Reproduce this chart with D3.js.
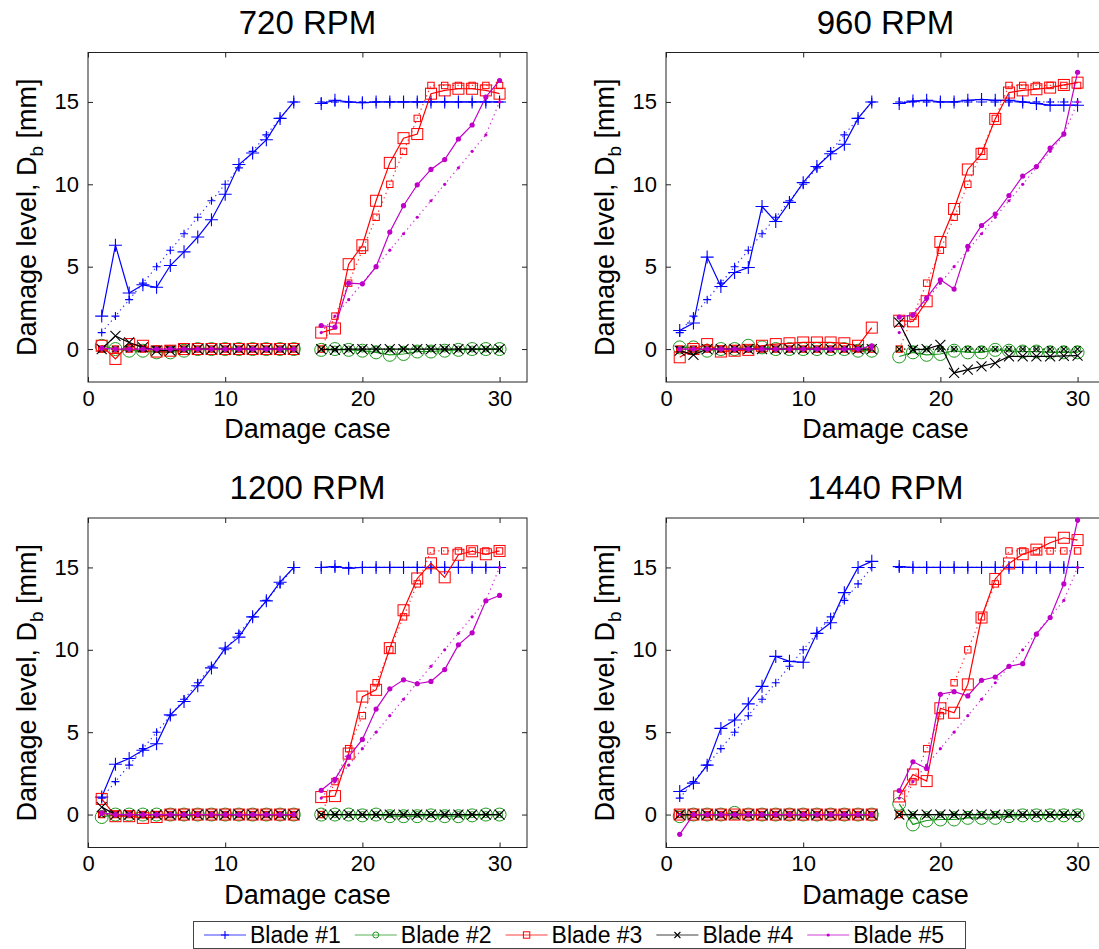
<!DOCTYPE html>
<html>
<head>
<meta charset="utf-8">
<script src="https://cdn.jsdelivr.net/npm/d3@7"></script>
<style>
  body { margin: 0; background: #fff; }
  svg text { font-family: "Liberation Sans", Arial, sans-serif; fill: #000; }
</style>
</head>
<body>
<svg id="fig" width="1099" height="949"></svg>
<script>
// damage cases, case 16 is not measured (gap)
var cases = [1,2,3,4,5,6,7,8,9,10,11,12,13,14,15,16,17,18,19,20,21,22,23,24,25,26,27,28,29,30];
var blades = ['Blade #1','Blade #2','Blade #3','Blade #4','Blade #5'];
var titles = ['720 RPM','960 RPM','1200 RPM','1440 RPM'];
var xTicks = [0,10,20,30];
var yTicks = [0,5,10,15];

// true damage (dotted)
var true1 = [1,2,3,4,5,6,7,8,9,10,11,12,13,14,15,null,15,15,15,15,15,15,15,15,15,15,15,15,15,15];
var true2 = [0,0,0,0,0,0,0,0,0,0,0,0,0,0,0,null,0,0,0,0,0,0,0,0,0,0,0,0,0,0];
var true3 = [0,0,0,0,0,0,0,0,0,0,0,0,0,0,0,null,0,2,4,6,8,10,12,14,16,16,16,16,16,16];
var true4 = [0,0,0,0,0,0,0,0,0,0,0,0,0,0,0,null,0,0,0,0,0,0,0,0,0,0,0,0,0,0];
var true5 = [0,0,0,0,0,0,0,0,0,0,0,0,0,0,0,null,1,2,3,4,5,6,7,8,9,10,11,12,13,15];

// estimated damage (solid), one set per speed
var est720_1 = [2.0,6.3,3.4,3.9,3.75,5.07,5.9,6.8,7.85,9.4,11.2,11.9,12.7,14.0,15.0,null,14.9,15.1,15.0,14.95,15.0,15.0,15.0,15.0,15.0,15.0,15.0,15.0,15.0,15.0];
var est720_2 = [0.2,0.0,-0.1,-0.1,-0.2,-0.2,-0.1,0,0,0,0,0,0,0,0,null,-0.05,0,-0.05,-0.1,-0.2,-0.35,-0.3,-0.15,-0.15,-0.1,-0.05,0,0,0];
var est720_3 = [0.2,-0.6,0.3,0.2,-0.15,-0.1,0,0,0,0,0,0,0,0,0,null,1.0,1.25,5.15,6.3,9.0,11.3,12.8,13.05,15.5,15.7,15.8,15.8,15.7,15.5];
var est720_4 = [0,0.8,0.4,0.1,-0.1,-0.1,0,0,0,0,0,0,0,0,0,null,0,-0.05,0,0,0,0,0,0,0,0,0,0,0,0];
var est720_5 = [0.05,0,0,0,0,0,0,0,0,0,0,0,0,0,0,null,1.43,1.33,4.0,3.96,5.0,7.1,8.7,9.97,10.9,11.5,12.75,13.6,15.3,16.3];

var est960_1 = [1.13,1.58,5.58,3.8,4.65,4.95,8.65,7.74,8.9,10.1,11.08,11.85,12.43,14.0,15.0,null,14.9,15.05,15.1,15.0,15.0,15.1,15.15,15.1,15.1,15.0,14.9,14.8,14.8,14.8];
var est960_2 = [0.1,0.1,-0.1,0,0,0.2,0.1,0,0,0,0,0,0,-0.1,-0.1,null,-0.45,-0.2,-0.35,-0.3,-0.1,-0.2,-0.2,-0.05,-0.1,-0.15,-0.15,-0.2,-0.2,-0.2];
var est960_3 = [-0.5,0,0.3,-0.15,-0.1,-0.05,0.2,0.3,0.35,0.4,0.4,0.4,0.35,0.2,1.3,null,1.72,1.68,2.9,6.5,8.5,10.9,11.85,13.97,15.57,15.7,15.77,15.87,16.03,16.17];
var est960_4 = [-0.1,-0.35,0,0,0,0,0,0,0,0,0,0,0,0,0,null,1.6,-0.05,0,0.26,-1.45,-1.25,-1.05,-0.85,-0.45,-0.45,-0.45,-0.45,-0.42,-0.4];
var est960_5 = [0,0,0,0,0,0,0,0,0,0,0,0,0,0,0.2,null,1.94,2.08,3.1,4.2,3.64,6.23,7.5,8.19,9.32,10.5,11.08,12.19,13.06,16.8];

var est1200_1 = [1.06,3.05,3.4,3.9,4.3,6.05,6.86,7.82,8.9,10.1,10.77,12.0,12.97,14.1,15.0,null,15.0,15.05,14.95,15.0,15.0,15.0,15.0,15.0,15.0,15.0,15.0,15.0,15.0,15.0];
var est1200_2 = [-0.15,0,0,0,0,0,0,0,0,0,0,0,0,0,0,null,0,0,0,-0.05,0,-0.1,-0.1,-0.1,-0.05,-0.1,-0.1,-0.05,0,0];
var est1200_3 = [0.95,-0.1,-0.1,-0.2,-0.15,0,0,0,0,0,0,0,0,0,0,null,1.06,1.12,3.7,7.16,7.57,10.1,12.4,14.33,15.25,14.4,15.77,15.98,15.8,16.0];
var est1200_4 = [0.45,0,0,0,0,0,0,0,0,0,0,0,0,0,0,null,0,0,0,0,0,0,0,0,0,0,0,0,0,0];
var est1200_5 = [0.1,0,0,0,0,0,0,0,0,0,0,0,0,0,0,null,1.47,2.14,3.5,4.56,6.4,7.63,8.18,7.94,8.08,8.8,10.3,11.03,12.97,13.3];

var est1440_1 = [1.4,1.91,3.0,5.23,5.74,6.72,7.78,9.6,9.3,9.24,11.0,11.64,13.47,15.0,15.37,null,15.05,15.0,15.0,15.0,15.0,15.0,15.0,15.0,15.0,15.0,15.0,15.0,15.0,15.0];
var est1440_2 = [-0.1,0,0,0,0.1,0,0,0,0,0,0,0,0,0,0,null,0.65,-0.6,-0.36,-0.3,-0.3,-0.2,-0.2,-0.2,-0.1,-0.05,-0.05,-0.05,-0.05,-0.05];
var est1440_3 = [0,0,0,0,0,0,0,0,0,0,0,0,0,0,0,null,1.1,2.43,2.03,6.45,6.18,7.9,11.96,14.3,15.24,15.8,16.08,16.5,16.8,16.66];
var est1440_4 = [0,0,0,0,0,0,0,0,0,0,0,0,0,0,0,null,0,0,0,0,0,0,0,0,0,0,0,0,0,0];
var est1440_5 = [-1.2,0,0,0,0,0,0,0,0,0,0,0,0,0,0,null,1.46,3.2,2.8,7.3,7.46,7.2,8.15,8.35,9.0,9.16,10.95,11.96,14.0,17.88];

var trues = [true1,true2,true3,true4,true5];
var ests = [
  [est720_1,est720_2,est720_3,est720_4,est720_5],
  [est960_1,est960_2,est960_3,est960_4,est960_5],
  [est1200_1,est1200_2,est1200_3,est1200_4,est1200_5],
  [est1440_1,est1440_2,est1440_3,est1440_4,est1440_5]
];

var colors = ['#0000ff','#1e9a1e','#ff0000','#000000','#c000c8'];
var symbols = ['plus','circle','square','cross','dot'];

var svg = d3.select('#fig');

// panel frames (left/top of each axes box)
var panels = [
  {left: 88, top: 52.5},
  {left: 666, top: 52.5},
  {left: 88, top: 518},
  {left: 666, top: 518}
];
var pw = 439, ph = 329.5;

var marker = function(g, type, x, y, big, color) {
  var s;
  if (type === 'plus') {
    s = big ? 6.5 : 4;
    g.append('path').attr('d', 'M' + (x-s) + ',' + y + 'H' + (x+s) + 'M' + x + ',' + (y-s) + 'V' + (y+s))
      .attr('stroke', color).attr('stroke-width', 1.1).attr('fill', 'none');
  } else if (type === 'circle') {
    g.append('circle').attr('cx', x).attr('cy', y).attr('r', big ? 6.5 : 3)
      .attr('stroke', color).attr('stroke-width', 1).attr('fill', 'none');
  } else if (type === 'square') {
    s = big ? 5.5 : 3.2;
    g.append('rect').attr('x', x-s).attr('y', y-s).attr('width', 2*s).attr('height', 2*s)
      .attr('stroke', color).attr('stroke-width', 1).attr('fill', 'none');
  } else if (type === 'cross') {
    s = big ? 5 : 3;
    g.append('path').attr('d', 'M' + (x-s) + ',' + (y-s) + 'L' + (x+s) + ',' + (y+s) + 'M' + (x+s) + ',' + (y-s) + 'L' + (x-s) + ',' + (y+s))
      .attr('stroke', color).attr('stroke-width', 1.1).attr('fill', 'none');
  } else {
    g.append('circle').attr('cx', x).attr('cy', y).attr('r', big ? 2.6 : 1.6)
      .attr('fill', color);
  }
}

panels.forEach(function(p, pi) {
  var x = d3.scaleLinear().domain([0, 32]).range([p.left, p.left + pw]);
  var y = d3.scaleLinear().domain([-2, 18]).range([p.top + ph, p.top]);
  var g = svg.append('g');

  var line = d3.line()
    .defined(function(d) { return d[1] !== null; })
    .x(function(d) { return x(d[0]); })
    .y(function(d) { return y(d[1]); });

  // axes box + inward ticks on all sides
  g.append('rect').attr('x', p.left).attr('y', p.top).attr('width', pw).attr('height', ph)
    .attr('fill', 'none').attr('stroke', '#222').attr('stroke-width', 1);

  var axB = g.append('g').attr('transform', 'translate(0,' + (p.top + ph) + ')')
    .call(d3.axisBottom(x).tickValues(xTicks).tickSize(-5).tickSizeOuter(0).tickPadding(8));
  var axT = g.append('g').attr('transform', 'translate(0,' + p.top + ')')
    .call(d3.axisTop(x).tickValues(xTicks).tickSize(-5).tickSizeOuter(0).tickFormat(''));
  var axL = g.append('g').attr('transform', 'translate(' + p.left + ',0)')
    .call(d3.axisLeft(y).tickValues(yTicks).tickSize(-5).tickSizeOuter(0).tickPadding(9));
  var axR = g.append('g').attr('transform', 'translate(' + (p.left + pw) + ',0)')
    .call(d3.axisRight(y).tickValues(yTicks).tickSize(-5).tickSizeOuter(0).tickFormat(''));
  [axB, axT, axL, axR].forEach(function(a) {
    a.select('.domain').remove();
    a.selectAll('line').attr('stroke', '#222');
    a.selectAll('text').style('font-size', '22px').attr('fill', '#000');
  });

  g.append('text').attr('x', p.left + pw/2).attr('y', p.top - 19)
    .attr('text-anchor', 'middle').style('font-size', '33px').text(titles[pi]);
  g.append('text').attr('x', p.left + pw/2).attr('y', p.top + ph + 56)
    .attr('text-anchor', 'middle').style('font-size', '27px').text('Damage case');
  var yl = g.append('text')
    .attr('transform', 'translate(' + (p.left - 52) + ',' + (p.top + ph/2) + ') rotate(-90)')
    .attr('text-anchor', 'middle').style('font-size', '27px');
  yl.append('tspan').text('Damage level, D');
  yl.append('tspan').attr('dy', 7).style('font-size', '19px').text('b');
  yl.append('tspan').attr('dy', -7).text(' [mm]');

  for (var b = 0; b < 5; b++) {
    var tdata = cases.map(function(c, i) { return [c, trues[b][i]]; });
    var edata = cases.map(function(c, i) { return [c, ests[pi][b][i]]; });

    g.append('path').datum(tdata).attr('d', line)
      .attr('fill', 'none').attr('stroke', colors[b]).attr('stroke-width', 1.2)
      .attr('stroke-dasharray', '1.3,3.5').attr('opacity', 0.8);
    tdata.forEach(function(d) { if (d[1] !== null) marker(g, symbols[b], x(d[0]), y(d[1]), false, colors[b]); });

    g.append('path').datum(edata).attr('d', line)
      .attr('fill', 'none').attr('stroke', colors[b]).attr('stroke-width', 1.2);
    edata.forEach(function(d) { if (d[1] !== null) marker(g, symbols[b], x(d[0]), y(d[1]), true, colors[b]); });
  }
});

// legend
var lg = svg.append('g');
lg.append('rect').attr('x', 193.5).attr('y', 921.5).attr('width', 772).attr('height', 27)
  .attr('fill', '#fff').attr('stroke', '#444').attr('stroke-width', 1);
var lx = d3.scaleBand().domain(blades).range([204, 958]);
blades.forEach(function(name, b) {
  var x0 = lx(name);
  lg.append('line').attr('x1', x0).attr('x2', x0 + 42).attr('y1', 935).attr('y2', 935)
    .attr('stroke', colors[b]).attr('stroke-width', 1).attr('opacity', 0.75);
  marker(lg, symbols[b], x0 + 21, 935, false, colors[b]);
  lg.append('text').attr('x', x0 + 46).attr('y', 943).style('font-size', '23px').text(name);
});
</script>
</body>
</html>
